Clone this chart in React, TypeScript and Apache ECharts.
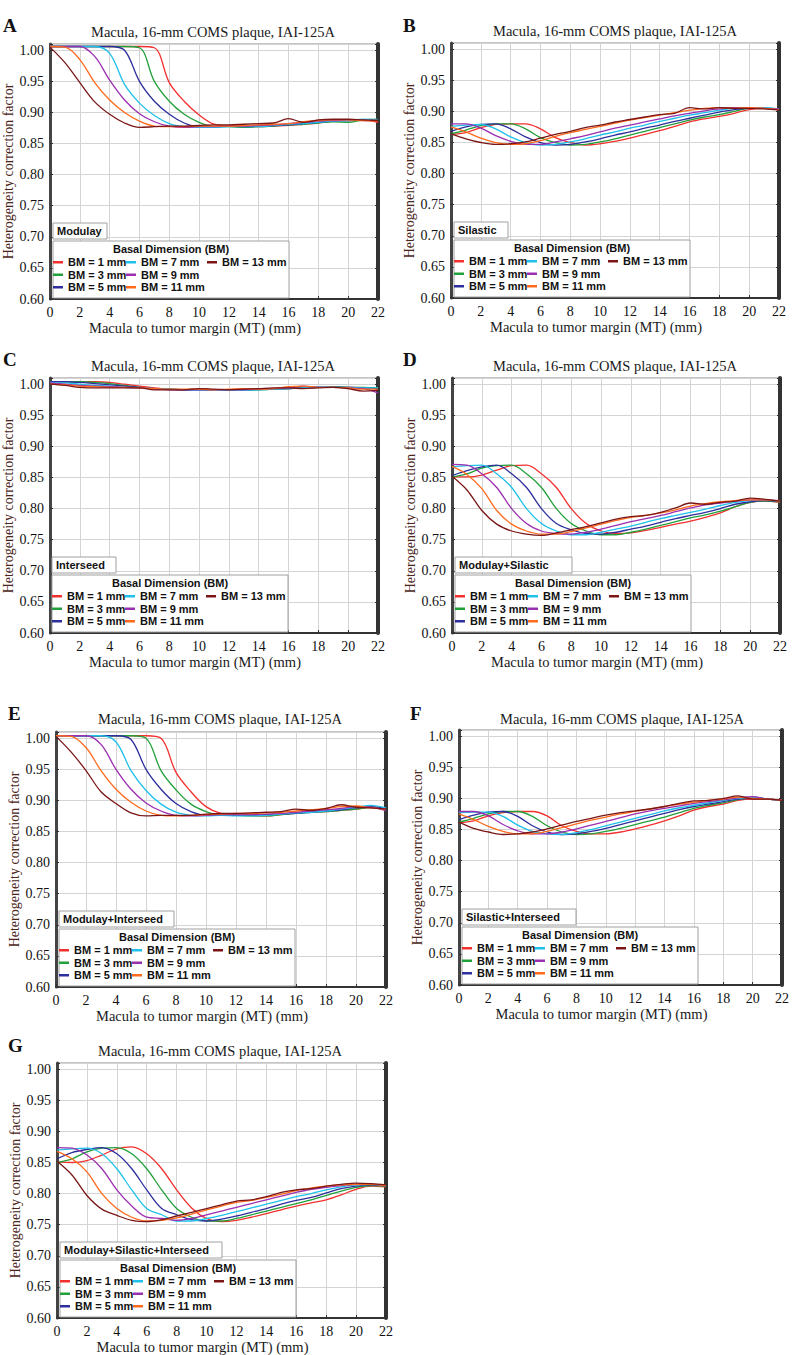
import React, { useEffect, useRef } from "react";
import * as echarts from "echarts";

// ---------- data ----------
const MT = [0, 1, 2, 3, 4, 5, 6, 7, 8, 9, 10, 11, 12, 13, 14, 15, 16, 17, 18, 19, 20, 21, 22];
const BM_LABELS = ["BM = 1 mm", "BM = 3 mm", "BM = 5 mm", "BM = 7 mm", "BM = 9 mm", "BM = 11 mm", "BM = 13 mm"];
const BM_COLORS = ["#f2302e", "#22a03a", "#2c2f9c", "#1fc0ea", "#9a2fb0", "#ff6a1c", "#7a1616"];
const PANEL_LETTERS = ["A", "B", "C", "D", "E", "F", "G"];
const MATERIALS = ["Modulay", "Silastic", "Interseed", "Modulay+Silastic", "Modulay+Interseed", "Silastic+Interseed", "Modulay+Silastic+Interseed"];
const TITLE = "Macula, 16-mm COMS plaque, IAI-125A";
const X_NAME = "Macula to tumor margin (MT) (mm)";
const Y_NAME = "Heterogeneity correction factor";

// Heterogeneity correction factor per BM (rows: 1,3,5,7,9,11,13 mm), sampled at MT
const HCF_MODULAY = [
  [1.006, 1.006, 1.006, 1.006, 1.006, 1.006, 1.006, 1.004, 0.948, 0.918, 0.896, 0.881, 0.878, 0.877, 0.877, 0.878, 0.879, 0.881, 0.883, 0.886, 0.887, 0.888, 0.884],
  [1.006, 1.006, 1.006, 1.006, 1.006, 1.006, 1.004, 0.950, 0.918, 0.897, 0.884, 0.877, 0.877, 0.876, 0.877, 0.878, 0.880, 0.881, 0.883, 0.885, 0.884, 0.888, 0.889],
  [1.006, 1.006, 1.006, 1.006, 1.006, 1.000, 0.950, 0.918, 0.897, 0.883, 0.877, 0.877, 0.878, 0.877, 0.878, 0.879, 0.880, 0.882, 0.884, 0.886, 0.887, 0.888, 0.888],
  [1.006, 1.006, 1.006, 1.006, 0.995, 0.945, 0.915, 0.895, 0.882, 0.877, 0.876, 0.876, 0.877, 0.877, 0.877, 0.879, 0.881, 0.882, 0.884, 0.886, 0.887, 0.889, 0.888],
  [1.006, 1.006, 1.006, 0.990, 0.952, 0.920, 0.898, 0.885, 0.878, 0.876, 0.877, 0.877, 0.878, 0.878, 0.879, 0.880, 0.882, 0.884, 0.886, 0.887, 0.888, 0.887, 0.887],
  [1.006, 1.005, 0.985, 0.948, 0.920, 0.900, 0.886, 0.878, 0.877, 0.877, 0.878, 0.878, 0.878, 0.879, 0.880, 0.881, 0.882, 0.885, 0.887, 0.888, 0.888, 0.887, 0.886],
  [1.005, 0.980, 0.948, 0.917, 0.897, 0.883, 0.876, 0.877, 0.878, 0.878, 0.879, 0.880, 0.880, 0.881, 0.882, 0.883, 0.890, 0.884, 0.888, 0.889, 0.889, 0.888, 0.887],
];
const HCF_SILASTIC = [
  [0.863, 0.866, 0.874, 0.879, 0.880, 0.880, 0.872, 0.858, 0.850, 0.846, 0.848, 0.852, 0.857, 0.863, 0.869, 0.876, 0.883, 0.888, 0.892, 0.897, 0.903, 0.905, 0.903],
  [0.864, 0.870, 0.877, 0.880, 0.880, 0.872, 0.858, 0.850, 0.846, 0.847, 0.851, 0.856, 0.862, 0.868, 0.874, 0.880, 0.886, 0.891, 0.895, 0.900, 0.905, 0.905, 0.904],
  [0.868, 0.875, 0.879, 0.880, 0.872, 0.859, 0.850, 0.846, 0.847, 0.851, 0.856, 0.862, 0.867, 0.873, 0.878, 0.884, 0.889, 0.894, 0.899, 0.903, 0.905, 0.905, 0.903],
  [0.876, 0.878, 0.879, 0.872, 0.859, 0.850, 0.846, 0.847, 0.851, 0.856, 0.862, 0.867, 0.873, 0.878, 0.884, 0.889, 0.894, 0.898, 0.902, 0.905, 0.905, 0.906, 0.904],
  [0.880, 0.880, 0.873, 0.861, 0.852, 0.847, 0.847, 0.851, 0.856, 0.861, 0.867, 0.873, 0.878, 0.883, 0.888, 0.893, 0.897, 0.901, 0.904, 0.906, 0.906, 0.905, 0.904],
  [0.875, 0.867, 0.857, 0.850, 0.847, 0.848, 0.853, 0.860, 0.866, 0.871, 0.876, 0.881, 0.886, 0.890, 0.894, 0.898, 0.902, 0.905, 0.906, 0.905, 0.906, 0.905, 0.903],
  [0.864, 0.856, 0.850, 0.847, 0.848, 0.851, 0.857, 0.863, 0.868, 0.874, 0.878, 0.883, 0.887, 0.891, 0.895, 0.897, 0.906, 0.904, 0.906, 0.905, 0.905, 0.904, 0.902],
];
const HCF_INTERSEED = [
  [1.002, 1.003, 1.004, 1.004, 1.003, 1.000, 0.997, 0.994, 0.992, 0.991, 0.991, 0.991, 0.991, 0.991, 0.992, 0.993, 0.993, 0.994, 0.995, 0.995, 0.995, 0.994, 0.993],
  [1.003, 1.004, 1.004, 1.003, 1.001, 0.998, 0.995, 0.993, 0.992, 0.991, 0.992, 0.991, 0.991, 0.990, 0.991, 0.992, 0.993, 0.994, 0.995, 0.996, 0.995, 0.995, 0.994],
  [1.004, 1.004, 1.003, 1.001, 0.999, 0.997, 0.995, 0.993, 0.992, 0.991, 0.991, 0.991, 0.991, 0.991, 0.992, 0.993, 0.993, 0.994, 0.995, 0.995, 0.995, 0.994, 0.993],
  [1.003, 1.002, 1.000, 0.998, 0.997, 0.995, 0.994, 0.993, 0.992, 0.991, 0.990, 0.990, 0.990, 0.990, 0.991, 0.992, 0.993, 0.994, 0.996, 0.995, 0.995, 0.994, 0.994],
  [1.002, 1.000, 0.998, 0.997, 0.996, 0.995, 0.994, 0.993, 0.991, 0.991, 0.991, 0.991, 0.991, 0.991, 0.992, 0.993, 0.994, 0.997, 0.995, 0.995, 0.994, 0.993, 0.986],
  [1.000, 0.999, 0.997, 0.996, 0.995, 0.995, 0.994, 0.993, 0.992, 0.992, 0.992, 0.991, 0.992, 0.993, 0.992, 0.993, 0.996, 0.997, 0.995, 0.995, 0.994, 0.992, 0.992],
  [1.000, 0.998, 0.995, 0.994, 0.994, 0.994, 0.994, 0.991, 0.991, 0.991, 0.993, 0.992, 0.991, 0.992, 0.993, 0.994, 0.994, 0.993, 0.994, 0.995, 0.993, 0.989, 0.990],
];
const HCF_MOD_SIL = [
  [0.851, 0.851, 0.854, 0.862, 0.869, 0.870, 0.856, 0.834, 0.800, 0.776, 0.764, 0.760, 0.761, 0.765, 0.770, 0.775, 0.780, 0.786, 0.793, 0.803, 0.810, 0.812, 0.810],
  [0.851, 0.856, 0.865, 0.869, 0.870, 0.856, 0.834, 0.800, 0.776, 0.764, 0.758, 0.758, 0.762, 0.767, 0.773, 0.779, 0.785, 0.790, 0.796, 0.803, 0.810, 0.812, 0.811],
  [0.853, 0.861, 0.867, 0.870, 0.856, 0.834, 0.800, 0.776, 0.766, 0.760, 0.759, 0.762, 0.767, 0.772, 0.778, 0.784, 0.789, 0.794, 0.800, 0.807, 0.811, 0.813, 0.812],
  [0.867, 0.869, 0.870, 0.856, 0.834, 0.800, 0.776, 0.764, 0.758, 0.758, 0.762, 0.767, 0.772, 0.778, 0.784, 0.789, 0.794, 0.799, 0.805, 0.810, 0.813, 0.814, 0.812],
  [0.871, 0.870, 0.856, 0.834, 0.800, 0.776, 0.764, 0.760, 0.759, 0.762, 0.767, 0.773, 0.779, 0.784, 0.789, 0.795, 0.801, 0.806, 0.809, 0.812, 0.814, 0.814, 0.813],
  [0.868, 0.855, 0.832, 0.797, 0.775, 0.764, 0.759, 0.759, 0.763, 0.769, 0.775, 0.781, 0.786, 0.789, 0.793, 0.798, 0.804, 0.808, 0.811, 0.813, 0.814, 0.814, 0.812],
  [0.852, 0.830, 0.797, 0.775, 0.764, 0.759, 0.757, 0.761, 0.766, 0.771, 0.777, 0.783, 0.787, 0.789, 0.794, 0.801, 0.809, 0.807, 0.810, 0.812, 0.817, 0.815, 0.812],
];
const HCF_MOD_INT = [
  [1.004, 1.004, 1.004, 1.004, 1.004, 1.004, 1.004, 1.000, 0.945, 0.914, 0.890, 0.879, 0.877, 0.876, 0.875, 0.877, 0.880, 0.881, 0.882, 0.884, 0.886, 0.889, 0.884],
  [1.004, 1.004, 1.004, 1.004, 1.004, 1.004, 1.000, 0.948, 0.917, 0.894, 0.882, 0.876, 0.876, 0.875, 0.875, 0.877, 0.879, 0.881, 0.882, 0.884, 0.886, 0.889, 0.886],
  [1.004, 1.004, 1.004, 1.004, 1.004, 0.998, 0.950, 0.918, 0.895, 0.882, 0.876, 0.876, 0.876, 0.876, 0.877, 0.878, 0.879, 0.881, 0.883, 0.885, 0.888, 0.890, 0.887],
  [1.004, 1.004, 1.004, 1.004, 0.994, 0.948, 0.916, 0.894, 0.881, 0.876, 0.875, 0.876, 0.875, 0.875, 0.876, 0.878, 0.880, 0.881, 0.883, 0.886, 0.889, 0.892, 0.888],
  [1.004, 1.004, 1.004, 0.990, 0.950, 0.918, 0.896, 0.883, 0.876, 0.875, 0.876, 0.877, 0.877, 0.877, 0.878, 0.879, 0.881, 0.883, 0.885, 0.887, 0.890, 0.889, 0.884],
  [1.004, 1.003, 0.985, 0.948, 0.918, 0.897, 0.883, 0.876, 0.875, 0.876, 0.877, 0.878, 0.879, 0.879, 0.880, 0.881, 0.883, 0.885, 0.887, 0.890, 0.891, 0.888, 0.886],
  [1.003, 0.978, 0.948, 0.914, 0.895, 0.880, 0.875, 0.876, 0.876, 0.876, 0.878, 0.879, 0.879, 0.880, 0.881, 0.882, 0.886, 0.884, 0.887, 0.893, 0.889, 0.888, 0.886],
];
const HCF_SIL_INT = [
  [0.861, 0.864, 0.872, 0.877, 0.879, 0.879, 0.872, 0.856, 0.847, 0.843, 0.843, 0.846, 0.851, 0.857, 0.864, 0.872, 0.881, 0.887, 0.891, 0.897, 0.899, 0.899, 0.897],
  [0.862, 0.868, 0.875, 0.879, 0.879, 0.871, 0.856, 0.846, 0.842, 0.843, 0.847, 0.852, 0.858, 0.864, 0.870, 0.877, 0.884, 0.889, 0.893, 0.898, 0.901, 0.899, 0.897],
  [0.866, 0.873, 0.878, 0.879, 0.871, 0.856, 0.846, 0.842, 0.843, 0.847, 0.852, 0.858, 0.864, 0.870, 0.876, 0.882, 0.887, 0.891, 0.895, 0.899, 0.900, 0.899, 0.897],
  [0.877, 0.878, 0.878, 0.871, 0.857, 0.847, 0.843, 0.842, 0.845, 0.850, 0.856, 0.862, 0.868, 0.874, 0.880, 0.885, 0.889, 0.893, 0.897, 0.900, 0.902, 0.899, 0.897],
  [0.879, 0.879, 0.872, 0.858, 0.848, 0.843, 0.843, 0.846, 0.851, 0.857, 0.863, 0.869, 0.875, 0.880, 0.884, 0.888, 0.892, 0.895, 0.898, 0.901, 0.903, 0.899, 0.898],
  [0.875, 0.866, 0.855, 0.847, 0.843, 0.843, 0.847, 0.853, 0.859, 0.865, 0.870, 0.875, 0.879, 0.883, 0.887, 0.891, 0.894, 0.897, 0.899, 0.902, 0.900, 0.899, 0.897],
  [0.862, 0.852, 0.846, 0.842, 0.843, 0.846, 0.851, 0.857, 0.863, 0.868, 0.873, 0.877, 0.880, 0.883, 0.887, 0.892, 0.896, 0.897, 0.900, 0.904, 0.899, 0.899, 0.897],
];
const HCF_MOD_SIL_INT = [
  [0.851, 0.850, 0.853, 0.862, 0.872, 0.875, 0.864, 0.840, 0.806, 0.777, 0.760, 0.755, 0.757, 0.762, 0.768, 0.774, 0.780, 0.785, 0.790, 0.798, 0.807, 0.812, 0.811],
  [0.850, 0.856, 0.867, 0.873, 0.874, 0.864, 0.840, 0.806, 0.776, 0.762, 0.756, 0.756, 0.760, 0.766, 0.772, 0.778, 0.784, 0.790, 0.797, 0.804, 0.810, 0.813, 0.812],
  [0.856, 0.866, 0.871, 0.874, 0.864, 0.840, 0.806, 0.776, 0.766, 0.758, 0.756, 0.759, 0.764, 0.770, 0.776, 0.783, 0.789, 0.794, 0.801, 0.808, 0.812, 0.814, 0.813],
  [0.870, 0.872, 0.873, 0.864, 0.840, 0.806, 0.776, 0.766, 0.756, 0.756, 0.760, 0.765, 0.771, 0.777, 0.783, 0.789, 0.795, 0.800, 0.806, 0.811, 0.814, 0.815, 0.813],
  [0.874, 0.873, 0.862, 0.840, 0.806, 0.780, 0.762, 0.760, 0.757, 0.760, 0.766, 0.772, 0.778, 0.784, 0.790, 0.796, 0.802, 0.807, 0.810, 0.813, 0.815, 0.815, 0.814],
  [0.868, 0.856, 0.835, 0.800, 0.776, 0.762, 0.756, 0.757, 0.761, 0.767, 0.774, 0.780, 0.786, 0.789, 0.794, 0.799, 0.805, 0.809, 0.812, 0.814, 0.815, 0.815, 0.813],
  [0.852, 0.830, 0.797, 0.775, 0.765, 0.757, 0.755, 0.758, 0.764, 0.770, 0.776, 0.782, 0.788, 0.790, 0.795, 0.802, 0.806, 0.808, 0.812, 0.815, 0.817, 0.816, 0.814],
];
const PANEL_DATA = [HCF_MODULAY, HCF_SILASTIC, HCF_INTERSEED, HCF_MOD_SIL, HCF_MOD_INT, HCF_SIL_INT, HCF_MOD_SIL_INT];

// ---------- layout (pixels) ----------
const LAYOUT = [
  { L: 50, T: 44, R: 378, B: 299, tx: 213, ty: 33, lx: 3, ly: 16, mw: 54 },
  { L: 451, T: 43, R: 779, B: 298, tx: 615, ty: 32, lx: 403, ly: 16, mw: 54 },
  { L: 49, T: 378, R: 378, B: 633, tx: 213, ty: 367, lx: 3, ly: 350, mw: 64 },
  { L: 452, T: 378, R: 780, B: 633, tx: 615, ty: 367, lx: 403, ly: 350, mw: 117 },
  { L: 56, T: 732, R: 386, B: 987, tx: 220, ty: 720, lx: 8, ly: 704, mw: 115 },
  { L: 459, T: 730, R: 785, B: 985, tx: 622, ty: 720, lx: 410, ly: 704, mw: 114 },
  { L: 57, T: 1063, R: 386, B: 1318, tx: 220, ty: 1052, lx: 8, ly: 1036, mw: 162 },
];

const SERIF = "'Liberation Serif', 'DejaVu Serif', serif";
const SANS = "'Liberation Sans', Arial, sans-serif";

function buildOption() {
  const grid: any[] = [];
  const xAxis: any[] = [];
  const yLeft: any[] = [];
  const yRight: any[] = [];
  const title: any[] = [];
  const legend: any[] = [];
  const graphic: any[] = [];
  const series: any[] = [];

  LAYOUT.forEach((g, i) => {
    grid.push({
      left: g.L, top: g.T, width: g.R - g.L, height: g.B - g.T,
      show: true, borderColor: "#8a8a8a", borderWidth: 1, backgroundColor: "#fff",
    });
    xAxis.push({
      gridIndex: i, type: "value", min: 0, max: 22, interval: 2,
      axisLine: { show: true, onZero: false, lineStyle: { color: "#333", width: 2 } },
      axisTick: { show: true, inside: true, length: 3, lineStyle: { color: "#333" } },
      axisLabel: { margin: 6, fontFamily: SERIF, fontSize: 14, color: "#111" },
      splitLine: { show: true, lineStyle: { color: "#d4d4d4", width: 1 } },
      name: X_NAME, nameLocation: "middle", nameGap: 21,
      nameTextStyle: { fontFamily: SERIF, fontSize: 14.5, color: "#1a1a1a", padding: [0, 38, 0, 0] },
    });
    yLeft.push({
      gridIndex: i, type: "value", min: 0.6, max: 1.01, interval: 0.05,
      axisLine: { show: true, onZero: false, lineStyle: { color: "#444", width: 3 } },
      axisTick: { show: true, inside: true, length: 3, lineStyle: { color: "#333" } },
      axisLabel: {
        margin: 6, fontFamily: SERIF, fontSize: 14, color: "#111",
        formatter: (v: number) => (Math.abs(v * 20 - Math.round(v * 20)) < 1e-6 ? v.toFixed(2) : ""),
      },
      splitLine: { show: true, lineStyle: { color: "#d4d4d4", width: 1 } },
      name: Y_NAME, nameLocation: "middle", nameGap: 35,
      nameTextStyle: { fontFamily: SERIF, fontSize: 14, color: "#4a2418" },
    });
    yRight.push({
      gridIndex: i, type: "value", position: "right", min: 0.6, max: 1.01, interval: 0.05,
      axisLine: { show: true, onZero: false, lineStyle: { color: "#333", width: 4 } },
      axisTick: { show: true, inside: true, length: 3, lineStyle: { color: "#333" } },
      axisLabel: { show: false },
      splitLine: { show: false },
    });
    title.push({
      text: TITLE, left: g.tx, top: g.ty - 9, textAlign: "center", padding: 0,
      textStyle: { fontFamily: SERIF, fontSize: 14.5, fontWeight: "normal", color: "#1a1a1a" },
    });
    title.push({
      text: PANEL_LETTERS[i], left: g.lx, top: g.ly, padding: 0,
      textStyle: { fontFamily: SERIF, fontSize: 19, fontWeight: "bold", color: "#111" },
    });

    const legendBase = {
      orient: "vertical", top: g.B - 43, itemWidth: 10, itemHeight: 2.5, itemGap: 0,
      icon: "rect", padding: 0, selectedMode: false, z: 10,
      textStyle: { fontFamily: SANS, fontSize: 11, fontWeight: "bold", color: "#111", lineHeight: 12.5 },
    };
    legend.push({ ...legendBase, left: g.L + 3, data: BM_LABELS.slice(0, 3) });
    legend.push({ ...legendBase, left: g.L + 76, data: BM_LABELS.slice(3, 6) });
    legend.push({ ...legendBase, left: g.L + 157, data: BM_LABELS.slice(6, 7) });

    graphic.push({
      type: "rect", z: 8, shape: { x: g.L + 3, y: g.B - 76, width: g.mw, height: 16 },
      style: { fill: "#fff", stroke: "#a0a0a0", lineWidth: 1 },
    });
    graphic.push({
      type: "text", z: 9, x: g.L + 7, y: g.B - 68,
      style: { text: MATERIALS[i], fontFamily: SANS, fontSize: 11, fontWeight: "bold", fill: "#111", align: "left", verticalAlign: "middle" },
    });
    graphic.push({
      type: "rect", z: 8, shape: { x: g.L + 3, y: g.B - 58, width: 236, height: 57 },
      style: { fill: "#fff", stroke: "#a0a0a0", lineWidth: 1 },
    });
    graphic.push({
      type: "text", z: 9, x: g.L + 121, y: g.B - 50,
      style: { text: "Basal Dimension (BM)", fontFamily: SANS, fontSize: 11, fontWeight: "bold", fill: "#111", align: "center", verticalAlign: "middle" },
    });

    PANEL_DATA[i].forEach((vals, k) => {
      series.push({
        type: "line", name: BM_LABELS[k], xAxisIndex: i, yAxisIndex: i,
        data: MT.map((x, j) => [x, vals[j]]),
        showSymbol: false, symbol: "none", smooth: 0.35,
        color: BM_COLORS[k], lineStyle: { width: 1.3, color: BM_COLORS[k] },
        z: 3,
      });
    });
  });

  return {
    animation: false,
    backgroundColor: "#fff",
    grid, xAxis, yAxis: [...yLeft, ...yRight], title, legend, graphic, series,
  };
}

export default function App() {
  const ref = useRef<HTMLDivElement>(null);
  useEffect(() => {
    if (!ref.current) return;
    const chart = echarts.init(ref.current, null, { renderer: "svg" });
    chart.setOption(buildOption() as any);
    return () => chart.dispose();
  }, []);
  return <div ref={ref} style={{ position: "absolute", left: 0, top: 0, width: 792, height: 1355 }} />;
}
